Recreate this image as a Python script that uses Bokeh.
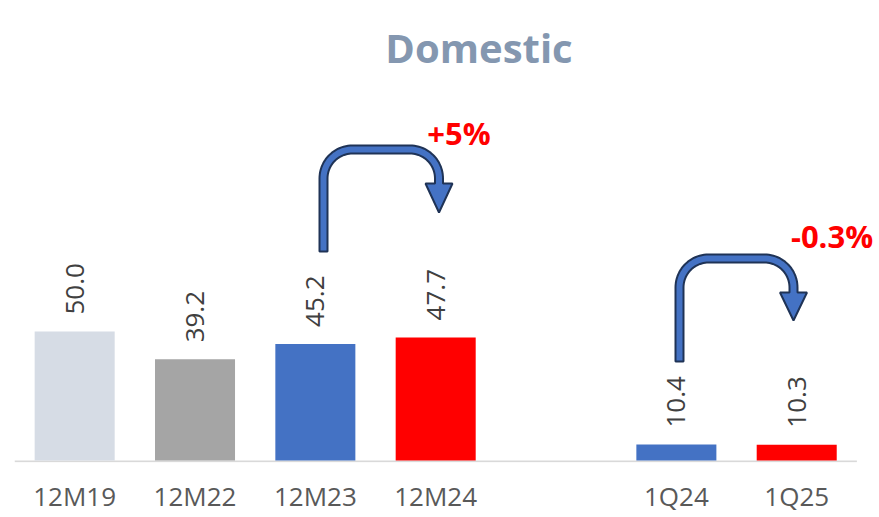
import numpy as np
from bokeh.plotting import figure
from bokeh.models import Range1d, ColumnDataSource, FixedTicker
from bokeh.core.properties import value
from bokeh.embed import file_html
from bokeh.resources import INLINE

# ---------------- data ----------------
title_text = "Domestic"
categories = ["12M19", "12M22", "12M23", "12M24", "", "1Q24", "1Q25"]
annual_cats = ["12M19", "12M22", "12M23", "12M24"]
annual_vals = [50.0, 39.2, 45.2, 47.7]
annual_colors = ["#D6DCE5", "#A5A5A5", "#4472C4", "#FF0000"]
quarter_cats = ["1Q24", "1Q25"]
quarter_vals = [10.4, 10.3]
quarter_colors = ["#4472C4", "#FF0000"]
change_labels = ["+5%", "-0.3%"]

FONT = "Open Sans"

W, H = 879, 517
BASE = 460        # pixel row of the value 0
FRAME_B = 462     # frame bottom (a little below 0 so the baseline shows)
LEFT = 14
SLOT = 120.34
PA, PQ = 2.58, 1.538   # px per unit, annual / quarterly scale

x_end = -0.5 + (W - LEFT) / SLOT
p = figure(width=W, height=H, x_range=Range1d(-0.5, x_end),
           y_range=Range1d(-(FRAME_B - BASE) / PA, BASE / PA),
           output_backend="svg", toolbar_location=None,
           y_axis_location=None, min_border_left=LEFT, min_border_right=0,
           min_border_top=0, min_border_bottom=H - FRAME_B)
p.extra_y_ranges = {"q": Range1d(-(FRAME_B - BASE) / PQ, BASE / PQ),
                    "px": Range1d(FRAME_B, 0)}
p.extra_x_ranges = {"px": Range1d(LEFT, W)}

p.xgrid.visible = False
p.ygrid.visible = False
p.outline_line_color = None
p.background_fill_color = "white"
p.border_fill_color = "white"

# ---------------- baseline ----------------
p.segment(x0=[-0.5], x1=[len(categories) - 0.5], y0=[-0.33], y1=[-0.33],
          line_color="#D9D9D9", line_width=1.7)

# ---------------- bars ----------------
src_a = ColumnDataSource(dict(
    x=[categories.index(c) for c in annual_cats], top=annual_vals, color=annual_colors,
    label=[f"{v:.1f}" for v in annual_vals]))
src_q = ColumnDataSource(dict(
    x=[categories.index(c) for c in quarter_cats], top=quarter_vals, color=quarter_colors,
    label=[f"{v:.1f}" for v in quarter_vals]))

p.vbar(x="x", top="top", bottom=0, width=0.665, fill_color="color", line_color=None,
       source=src_a)
p.vbar(x="x", top="top", bottom=0, width=0.665, fill_color="color", line_color=None,
       source=src_q, y_range_name="q")

lab_kw = dict(angle=np.pi / 2, text_align="left", text_baseline="middle", y_offset=-17,
              text_font=value(FONT), text_font_size="26px", text_color="#404040")
p.text(x="x", y="top", text="label", source=src_a, **lab_kw)
p.text(x="x", y="top", text="label", source=src_q, y_range_name="q", **lab_kw)

# ---------------- axis ----------------
ticks = [i for i, c in enumerate(categories) if c]
p.xaxis.ticker = FixedTicker(ticks=ticks)
p.xaxis.major_label_overrides = {i: categories[i] for i in ticks}
p.xaxis.axis_line_color = None
p.xaxis.major_tick_line_color = None
p.xaxis.minor_tick_line_color = None
p.xaxis.major_label_text_font = FONT
p.xaxis.major_label_text_font_size = "26px"
p.xaxis.major_label_text_color = "#595959"
p.xaxis.major_label_text_line_height = 1.0
p.xaxis.major_label_standoff = 9


# ---------------- U-turn arrows (page pixel geometry) ----------------
def uturn(x0, y0, ytop, x1, yb, ytip, r=29.0, h=4.0, hw=13.5, n=24):
    t = np.linspace(0, 1, n)
    ro, ri = r + h, r - h
    c1 = (x0 + r, ytop + r)
    c2 = (x1 - r, ytop + r)
    a1 = np.pi + t * np.pi / 2
    a2 = 1.5 * np.pi + t * np.pi / 2
    ox = [x0 - h] + list(c1[0] + ro * np.cos(a1)) + list(c2[0] + ro * np.cos(a2)) + [x1 + h]
    oy = [y0] + list(c1[1] + ro * np.sin(a1)) + list(c2[1] + ro * np.sin(a2)) + [yb]
    ix = [x0 + h] + list(c1[0] + ri * np.cos(a1)) + list(c2[0] + ri * np.cos(a2)) + [x1 - h]
    iy = [y0] + list(c1[1] + ri * np.sin(a1)) + list(c2[1] + ri * np.sin(a2)) + [yb]
    hx = [x1 + hw, x1, x1 - hw]
    hy = [yb, ytip, yb]
    return ox + hx + ix[::-1], oy + hy + iy[::-1]


arrows = [uturn(323, 251, 149, 438.5, 183, 212), uturn(679, 361, 258, 793, 292, 320)]
for xs, ys in arrows:
    p.patch(xs, ys, fill_color="#4472C4", line_color="#1F3356", line_width=2,
            x_range_name="px", y_range_name="px")

# ---------------- texts ----------------
p.text(x=[458.5, 831.5], y=[132, 235], text=change_labels, text_align="center",
       text_baseline="middle", text_font=value(FONT), text_font_style="bold",
       text_font_size="31px", text_color="#FF0000", x_range_name="px", y_range_name="px")
p.text(x=[478.5], y=[47], text=[title_text], text_align="center", text_baseline="middle",
       text_font=value(FONT), text_font_style="bold", text_font_size="40px",
       text_color="#8497B0", x_range_name="px", y_range_name="px")

open("out.html", "w").write(file_html(p, INLINE))
